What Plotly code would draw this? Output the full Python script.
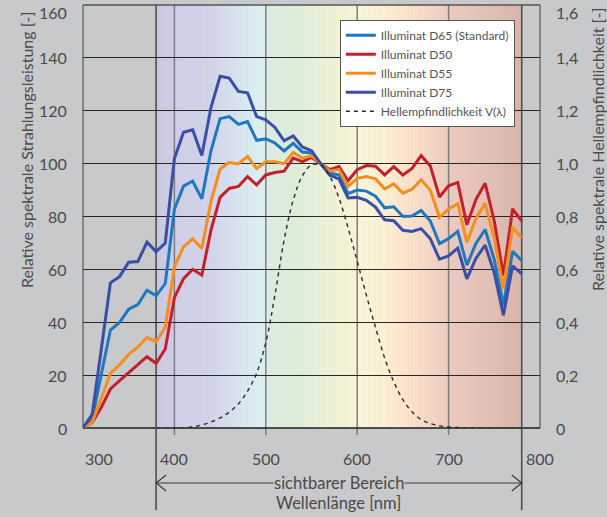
import plotly.graph_objects as go

# Wavelength grid (nm) for the illuminant spectra
wavelength = list(range(300, 790, 10))

# Relative spectral power distributions (normalised to 100 at 560 nm)
d65 = [0.03, 3.29, 20.24, 37.05, 39.95, 44.91, 46.64, 52.09, 49.98, 54.65,
       82.75, 91.49, 93.43, 86.68, 104.87, 117.01, 117.81, 114.86, 115.92, 108.81,
       109.35, 107.80, 104.79, 107.69, 104.41, 104.05, 100.00, 96.33, 95.79, 88.69,
       90.01, 89.60, 87.70, 83.29, 83.70, 80.03, 80.21, 82.28, 78.28, 69.72,
       71.61, 74.35, 61.60, 69.89, 75.09, 63.59, 46.42, 66.81, 63.38]
d50 = [0.02, 2.05, 7.78, 14.75, 17.95, 21.01, 23.94, 26.96, 24.49, 29.87,
       49.31, 56.51, 60.03, 57.82, 74.83, 87.25, 90.61, 91.37, 95.11, 91.96,
       95.72, 96.61, 97.13, 102.10, 100.76, 102.32, 100.00, 97.74, 98.92, 93.50,
       97.69, 99.27, 99.04, 95.72, 98.86, 95.67, 98.19, 103.00, 99.13, 87.38,
       91.60, 92.89, 76.85, 86.51, 92.58, 78.23, 57.69, 82.92, 78.27]
d55 = [0.02, 2.07, 11.22, 20.65, 23.89, 27.82, 30.62, 34.31, 32.58, 38.09,
       60.95, 68.55, 71.58, 67.91, 85.61, 97.99, 100.46, 99.91, 102.74, 98.08,
       100.68, 100.70, 99.99, 104.21, 102.10, 102.97, 100.00, 97.22, 97.75, 91.43,
       94.42, 95.14, 94.22, 90.45, 92.33, 88.85, 90.32, 93.95, 89.96, 79.68,
       82.84, 84.84, 70.24, 79.30, 84.99, 71.88, 52.79, 75.93, 71.82]
d75 = [0.04, 5.13, 29.81, 54.93, 57.26, 62.74, 62.98, 70.31, 66.70, 69.96,
       101.93, 111.89, 112.80, 103.09, 121.20, 133.01, 132.36, 127.32, 126.80, 117.78,
       116.59, 113.70, 108.66, 110.45, 106.29, 104.90, 100.00, 95.62, 94.21, 87.00,
       87.23, 86.14, 83.58, 78.75, 78.43, 74.80, 74.32, 75.42, 71.58, 63.85,
       65.08, 68.07, 56.44, 64.24, 69.15, 58.63, 42.62, 61.35, 58.32]

# Photopic luminous efficiency V(lambda), 380-780 nm
v_wavelength = list(range(380, 790, 10))
v_lambda = [0.00004, 0.00012, 0.0004, 0.0012, 0.004, 0.0116, 0.023, 0.038, 0.06, 0.091,
            0.139, 0.208, 0.323, 0.503, 0.71, 0.862, 0.954, 0.995, 0.995, 0.952,
            0.87, 0.757, 0.631, 0.503, 0.381, 0.265, 0.175, 0.107, 0.061, 0.032,
            0.017, 0.0082, 0.0041, 0.0021, 0.00105, 0.00052, 0.00025, 0.00012, 0.00006, 0.00003,
            0.000015]

series_names = ["Illuminat D65 (Standard)", "Illuminat D50", "Illuminat D55", "Illuminat D75"]
series_values = [d65, d50, d55, d75]
series_colors = ["#1f77c0", "#c3202b", "#f68d1f", "#3a4ea5"]

x_ticks = [300, 400, 500, 600, 700, 800]
y_ticks = [0, 20, 40, 60, 80, 100, 120, 140, 160]
y_ticktext = ["0", "20", "40", "60", "80", "100", "120", "140", "160"]
y2_ticks = [0, 0.2, 0.4, 0.6, 0.8, 1.0, 1.2, 1.4, 1.6]
y2_ticktext = ["0", "0,2", "0,4", "0,6", "0,8", "1,0", "1,2", "1,4", "1,6"]

visible_range = [380, 780]

X_MIN, X_MAX = 300, 800
Y_MAX, Y2_MAX = 160, 1.6
W, H = 607, 517
M_L, M_R, M_T, M_B = 83, 67, 5, 89
PLOT_W = W - M_L - M_R
PLOT_H = H - M_T - M_B

FONT = "Lato"
TEXT_COLOR = "#4a4a4a"
BG = "#c8c9ca"


def px_x(nm):
    return (nm - X_MIN) / (X_MAX - X_MIN)


def dy(pixels):
    return pixels / PLOT_H


def dx(pixels):
    return pixels / PLOT_W


def hex_to_rgb(h):
    h = h.lstrip("#")
    return tuple(int(h[i:i + 2], 16) for i in (0, 2, 4))


# Colour stops of the visible spectrum background
spectrum_stops = [
    (380, "#cbc8e2"), (400, "#cfcee6"), (440, "#d2d4ea"), (460, "#d6deee"),
    (480, "#daeaf1"), (495, "#dcf0f2"), (505, "#dcedde"), (530, "#ddedd9"),
    (560, "#e9f2d8"), (585, "#f3f4d6"), (610, "#faf4d8"), (630, "#fcefd4"),
    (650, "#fde5cc"), (680, "#f4d6c6"), (700, "#eccbbf"), (740, "#e4c1b7"),
    (780, "#d9b5ac"),
]


def spectrum_color(nm):
    for (a, ca), (b, cb) in zip(spectrum_stops[:-1], spectrum_stops[1:]):
        if a <= nm <= b:
            t = (nm - a) / (b - a)
            ra, ga, ba = hex_to_rgb(ca)
            rb, gb, bb = hex_to_rgb(cb)
            return "rgb(%d,%d,%d)" % (ra + (rb - ra) * t, ga + (gb - ga) * t, ba + (bb - ba) * t)
    return spectrum_stops[-1][1]


fig = go.Figure()

for name, vals, col in zip(series_names, series_values, series_colors):
    fig.add_trace(go.Scatter(x=wavelength, y=vals, name=name, mode="lines",
                             line=dict(color=col, width=3)))

fig.add_trace(go.Scatter(x=v_wavelength, y=v_lambda, name="Hellempfindlichkeit V(λ)",
                         mode="lines", yaxis="y2",
                         line=dict(color="#2a2a2a", width=1.4, dash="4px,4px", shape="spline")))

shapes = []
# spectrum background
step = 4
nm = visible_range[0]
while nm < visible_range[1]:
    shapes.append(dict(type="rect", xref="x", yref="paper", x0=nm, x1=min(nm + step, visible_range[1]) + 0.3,
                       y0=0, y1=1, line=dict(width=0), fillcolor=spectrum_color(nm + step / 2),
                       layer="below"))
    nm += step

# inner vertical grid lines with short ticks below the axis
for t in x_ticks[1:-1]:
    shapes.append(dict(type="line", xref="paper", yref="paper", x0=px_x(t), x1=px_x(t),
                       y0=1, y1=-dy(7), line=dict(color="#7d7d7d", width=1.5), layer="between"))

# frame
shapes.append(dict(type="line", xref="paper", yref="paper", x0=0, x1=0, y0=0, y1=1,
                   line=dict(color="#6e6e6e", width=1.5), layer="between"))
shapes.append(dict(type="line", xref="paper", yref="paper", x0=1, x1=1, y0=0, y1=1,
                   line=dict(color="#6e6e6e", width=1.5), layer="between"))
shapes.append(dict(type="line", xref="paper", yref="paper", x0=0, x1=1, y0=1, y1=1,
                   line=dict(color="#555555", width=1.5), layer="between"))
shapes.append(dict(type="line", xref="paper", yref="paper", x0=0, x1=1, y0=0, y1=0,
                   line=dict(color="#1e1e1e", width=1.5), layer="between"))

# visible range boundaries extending down to the arrow
arrow_y = -dy(55)
for t in visible_range:
    shapes.append(dict(type="line", xref="paper", yref="paper", x0=px_x(t), x1=px_x(t),
                       y0=1, y1=-dy(82), line=dict(color="#4e4e4e", width=1.6), layer="between"))

# double arrow for the visible range
shapes.append(dict(type="line", xref="paper", yref="paper", x0=px_x(visible_range[0]), x1=px_x(visible_range[1]),
                   y0=arrow_y, y1=arrow_y, line=dict(color="#3a3a3a", width=1.2)))
xl = px_x(visible_range[0])
xr = px_x(visible_range[1])
shapes.append(dict(type="path", xref="paper", yref="paper",
                   path="M %f,%f L %f,%f L %f,%f" % (xl + dx(10), arrow_y + dy(8), xl, arrow_y, xl + dx(10), arrow_y - dy(8)),
                   line=dict(color="#3a3a3a", width=1.2)))
shapes.append(dict(type="path", xref="paper", yref="paper",
                   path="M %f,%f L %f,%f L %f,%f" % (xr - dx(10), arrow_y + dy(8), xr, arrow_y, xr - dx(10), arrow_y - dy(8)),
                   line=dict(color="#3a3a3a", width=1.2)))

annotations = []
tick_font = dict(family=FONT, size=16, color=TEXT_COLOR)
# x tick labels (the first one starts at the left frame)
for i, t in enumerate(x_ticks):
    annotations.append(dict(x=px_x(t), y=-dy(30), xref="paper", yref="paper", text=str(t),
                            showarrow=False, xanchor="left" if i == 0 else "center", yanchor="middle",
                            font=tick_font))
# left and right y tick labels; the topmost ones hang below the frame
for v, lab in zip(y_ticks, y_ticktext):
    top = v == y_ticks[-1]
    annotations.append(dict(x=-dx(14), y=v / Y_MAX, xref="paper", yref="paper", text=lab,
                            showarrow=False, xanchor="right", yanchor="top" if top else "middle",
                            yshift=4 if top else 0, font=tick_font))
for v, lab in zip(y2_ticks, y2_ticktext):
    top = v == y2_ticks[-1]
    annotations.append(dict(x=1 + dx(14), y=v / Y2_MAX, xref="paper", yref="paper", text=lab,
                            showarrow=False, xanchor="left", yanchor="top" if top else "middle",
                            yshift=4 if top else 0, font=tick_font))

title_font = dict(family=FONT, size=16, color=TEXT_COLOR)
annotations.append(dict(x=-dx(57), y=dy(278), xref="paper", yref="paper",
                        text="Relative spektrale Strahlungsleistung [-]", textangle=-90,
                        showarrow=False, xanchor="center", yanchor="middle", font=title_font))
annotations.append(dict(x=1 + dx(57), y=dy(278), xref="paper", yref="paper",
                        text="Relative spektrale Hellempfindlichkeit [-]", textangle=-90,
                        showarrow=False, xanchor="center", yanchor="middle", font=title_font))

mid = (visible_range[0] + visible_range[1]) / 2
annotations.append(dict(x=px_x(mid), y=arrow_y, xref="paper", yref="paper", text="sichtbarer Bereich",
                        showarrow=False, bgcolor=BG, borderpad=0, xanchor="center", yanchor="middle",
                        font=dict(family=FONT, size=16.5, color=TEXT_COLOR)))
annotations.append(dict(x=px_x(mid), y=-dy(75), xref="paper", yref="paper", text="Wellenlänge [nm]",
                        showarrow=False, xanchor="center", yanchor="middle",
                        font=dict(family=FONT, size=16.5, color=TEXT_COLOR)))

fig.update_layout(
    width=W, height=H,
    margin=dict(l=M_L, r=M_R, t=M_T, b=M_B, pad=0),
    paper_bgcolor=BG, plot_bgcolor=BG,
    font=dict(family=FONT, color=TEXT_COLOR),
    showlegend=True,
    legend=dict(x=0.562, y=0.965, xanchor="left", yanchor="top",
                bgcolor="white", bordercolor="#555555", borderwidth=1,
                font=dict(family=FONT, size=12, color="#555555"),
                tracegroupgap=0, itemwidth=30),
    xaxis=dict(range=[X_MIN, X_MAX], showgrid=False, zeroline=False, showticklabels=False,
               ticks="", showline=False, fixedrange=True),
    yaxis=dict(range=[0, Y_MAX], tickvals=y_ticks, showgrid=True, gridcolor="#262626", gridwidth=1,
               zeroline=False, showline=False, ticks="", showticklabels=False),
    yaxis2=dict(range=[0, Y2_MAX], overlaying="y", side="right", tickvals=y2_ticks,
                showgrid=False, zeroline=False, showline=False, ticks="", showticklabels=False),
    shapes=shapes,
    annotations=annotations,
)

fig.write_html("out.html")
